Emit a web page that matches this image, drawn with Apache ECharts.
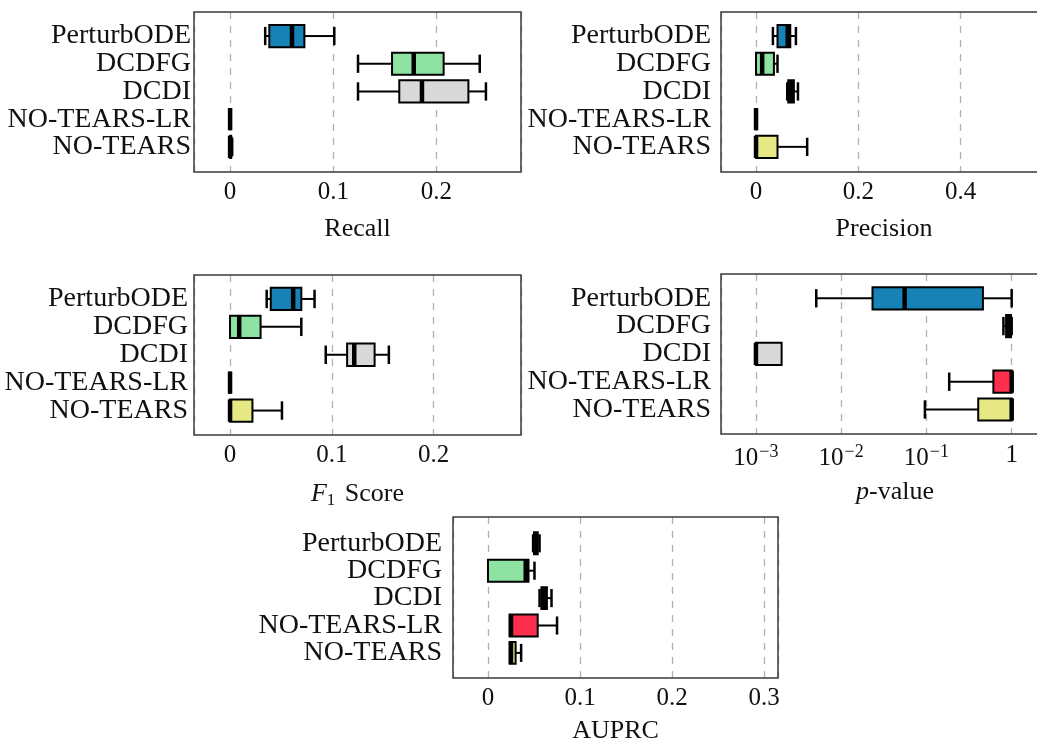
<!DOCTYPE html>
<html>
<head>
<meta charset="utf-8">
<script src="https://cdn.jsdelivr.net/npm/echarts@6/dist/echarts.min.js"></script>
<style>
  html, body { margin: 0; padding: 0; background: #fff; overflow: hidden; }
  #chart { width: 1120px; height: 750px; }
</style>
</head>
<body>
<div id="chart"></div>
<script>
// ---- data ----
const categories = ['PerturbODE', 'DCDFG', 'DCDI', 'NO-TEARS-LR', 'NO-TEARS'];
const methodColors = ['#1782b5', '#8fe3a2', '#d9d9d9', '#fd2f4c', '#e6e883'];
// each row: [min, q1, median, q3, max]
const recall = [
  [0.034, 0.038, 0.060, 0.072, 0.101],
  [0.124, 0.157, 0.178, 0.207, 0.242],
  [0.124, 0.164, 0.186, 0.231, 0.248],
  [0, 0, 0, 0, 0],
  [0, 0, 0, 0.001, 0.002]
];
const precision = [
  [0.033, 0.042, 0.062, 0.067, 0.078],
  [0, 0, 0.012, 0.035, 0.042],
  [0.061, 0.063, 0.069, 0.074, 0.082],
  [0, 0, 0, 0, 0],
  [0, 0, 0, 0.042, 0.100]
];
const f1 = [
  [0.036, 0.040, 0.062, 0.070, 0.083],
  [0, 0, 0.009, 0.030, 0.070],
  [0.094, 0.115, 0.122, 0.142, 0.156],
  [0, 0, 0, 0, 0],
  [0, 0, 0, 0.022, 0.051]
];
const pvalue = [
  [0.0051, 0.0233, 0.0555, 0.46, 1.0],
  [0.80, 0.86, 0.93, 0.98, 1.0],
  [0.001, 0.001, 0.001, 0.002, 0.002],
  [0.185, 0.61, 1.0, 1.0, 1.0],
  [0.096, 0.405, 1.0, 1.0, 1.0]
];
const auprc = [
  [0.049, 0.050, 0.052, 0.054, 0.056],
  [0, 0, 0.041, 0.044, 0.0505],
  [0.056, 0.058, 0.061, 0.064, 0.069],
  [0.0235, 0.0235, 0.025, 0.054, 0.075],
  [0.0235, 0.0235, 0.025, 0.030, 0.036]
];
const linearTicks = [0, 0.1, 0.2, 0.3, 0.4, 0.5];
const logTicks = [0.001, 0.01, 0.1, 1];

// ---- layout ----
const FONT = 'Liberation Serif';
const panels = [
  { values: recall, name: 'Recall', log: false, min: -0.035, max: 0.282,
    outer: { left: 194, top: 12, width: 327, height: 160 },
    inner: { top: 22.2, height: 138.5 }, labelMargin: 3, nameGap: 44 },
  { values: precision, name: 'Precision', log: false, min: -0.0685, max: 0.569,
    outer: { left: 721, top: 12, width: 326, height: 160 },
    inner: { top: 22.2, height: 138.5 }, labelMargin: 10, nameGap: 44 },
  { values: f1, name: '{it|F}{sub|1} Score', log: false, min: -0.0354, max: 0.2858,
    outer: { left: 194, top: 275, width: 327, height: 160 },
    inner: { top: 285, height: 139.5 }, labelMargin: 6, nameGap: 45 },
  { values: pvalue, name: '{it|p}-value', log: true, min: Math.pow(10, -3.41), max: Math.pow(10, 0.6725),
    outer: { left: 721, top: 274, width: 348, height: 160 },
    inner: { top: 284.4, height: 139 }, labelMargin: 10, nameGap: 45 },
  { values: auprc, name: 'AUPRC', log: false, min: -0.038, max: 0.315,
    outer: { left: 453, top: 517, width: 325, height: 161 },
    inner: { top: 529.6, height: 137 }, labelMargin: 11, nameGap: 40 }
];

function linFormatter(v) {
  for (const t of linearTicks) if (Math.abs(v - t) < 1e-9) return t === 0 ? '0' : String(t);
  return '';
}
function logFormatter(v) {
  for (const t of logTicks) {
    if (Math.abs(v - t) / t < 1e-6) {
      const e = Math.round(Math.log10(t));
      return e === 0 ? '1' : '{b|10}{sup|\u2212' + (-e) + '}';
    }
  }
  return '';
}

function renderBox(params, api) {
  const y = api.value(0);
  const vals = [api.value(1), api.value(2), api.value(3), api.value(4), api.value(5)];
  const p = vals.map(v => api.coord([v, y]));
  const band = api.size([0, 1])[1];
  const bh = band * 0.8, ch = band * 0.66;
  const cy = p[0][1];
  const color = methodColors[params.dataIndex];
  const ch_ = [];
  const stroke = '#000';
  if (p[1][0] - p[0][0] > 0.5) {
    ch_.push({ type: 'line', shape: { x1: p[0][0], y1: cy, x2: p[1][0], y2: cy }, style: { stroke, lineWidth: 2 } });
    ch_.push({ type: 'line', shape: { x1: p[0][0], y1: cy - ch / 2, x2: p[0][0], y2: cy + ch / 2 }, style: { stroke, lineWidth: 2.5 } });
  }
  if (p[4][0] - p[3][0] > 0.5) {
    ch_.push({ type: 'line', shape: { x1: p[3][0], y1: cy, x2: p[4][0], y2: cy }, style: { stroke, lineWidth: 2 } });
    ch_.push({ type: 'line', shape: { x1: p[4][0], y1: cy - ch / 2, x2: p[4][0], y2: cy + ch / 2 }, style: { stroke, lineWidth: 2.5 } });
  }
  ch_.push({ type: 'rect', shape: { x: p[1][0], y: cy - bh / 2, width: p[3][0] - p[1][0], height: bh },
    style: { fill: color, stroke, lineWidth: 2 } });
  ch_.push({ type: 'line', shape: { x1: p[2][0], y1: cy - bh / 2, x2: p[2][0], y2: cy + bh / 2 },
    style: { stroke, lineWidth: 4.5 } });
  return { type: 'group', children: ch_ };
}

const grid = [], xAxis = [], yAxis = [], series = [];
panels.forEach((pn, k) => {
  const go = grid.length;
  grid.push({ left: pn.outer.left, top: pn.outer.top, width: pn.outer.width, height: pn.outer.height,
    show: true, borderColor: '#3a3a3a', borderWidth: 1.5, backgroundColor: 'transparent', z: 5 });
  grid.push({ left: pn.outer.left, top: pn.inner.top, width: pn.outer.width, height: pn.inner.height, show: false });
  const xCommon = pn.log
    ? { type: 'log', logBase: 10, min: pn.min, max: pn.max }
    : { type: 'value', min: pn.min, max: pn.max, splitNumber: 3 };
  xAxis.push(Object.assign({}, xCommon, {
    gridIndex: go,
    axisLine: { show: false }, axisTick: { show: false },
    splitLine: { show: true, lineStyle: { color: '#b0b0b0', type: [7, 7], width: 1.3 } },
    axisLabel: {
      show: true, margin: pn.log ? 9 : 8, color: '#111', fontFamily: FONT, fontSize: 25,
      formatter: pn.log ? logFormatter : linFormatter,
      rich: {
        b: { fontFamily: FONT, fontSize: 25, color: '#111' },
        sup: { fontFamily: FONT, fontSize: 18, color: '#111', padding: [0, 0, 12, 1] }
      }
    },
    name: pn.name, nameLocation: 'middle', nameGap: pn.nameGap,
    nameTextStyle: {
      fontFamily: FONT, fontSize: 26, color: '#111',
      rich: {
        it: { fontFamily: FONT, fontStyle: 'italic', fontSize: 26, color: '#111' },
        sub: { fontFamily: FONT, fontSize: 17, color: '#111', padding: [12, 3, 0, 0] }
      }
    }
  }));
  yAxis.push({ type: 'value', gridIndex: go, show: false, min: 0, max: 1 });
  xAxis.push(Object.assign({}, xCommon, { gridIndex: go + 1, show: false, splitLine: { show: false } }));
  yAxis.push({
    type: 'category', gridIndex: go + 1, data: categories, inverse: true,
    axisLine: { show: false }, axisTick: { show: false }, splitLine: { show: false },
    axisLabel: { interval: 0, margin: pn.labelMargin, color: '#111', fontFamily: FONT, fontSize: 28 }
  });
  series.push({
    type: 'custom', xAxisIndex: go + 1, yAxisIndex: go + 1,
    renderItem: renderBox, clip: false,
    encode: { x: [1, 2, 3, 4, 5], y: 0 },
    data: categories.map((c, i) => [i].concat(pn.values[i]))
  });
});

const chart = echarts.init(document.getElementById('chart'), null, { renderer: 'canvas' });
chart.setOption({
  animation: false,
  backgroundColor: '#fff',
  grid, xAxis, yAxis, series
});
</script>
</body>
</html>
